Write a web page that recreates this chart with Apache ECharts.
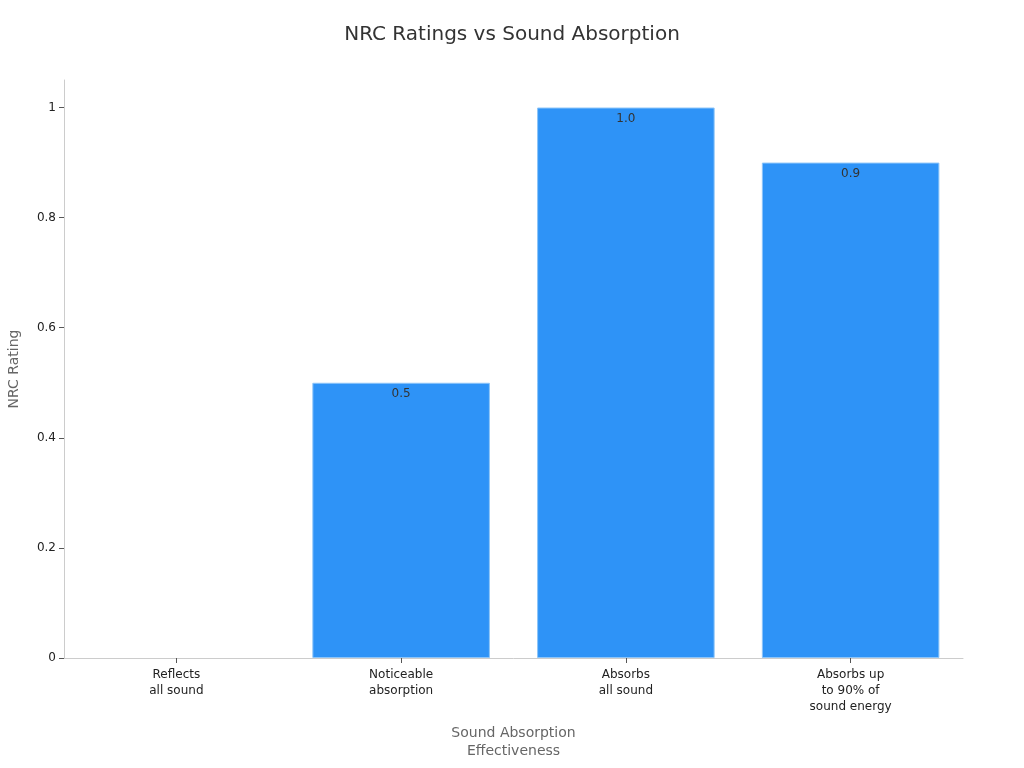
<!DOCTYPE html>
<html lang="en">
<head>
    <meta charset="utf-8">
    <title>NRC Ratings vs Sound Absorption</title>
    <script src="https://cdn.jsdelivr.net/npm/echarts@6/dist/echarts.min.js"></script>
    <style>
        html, body { margin: 0; padding: 0; background: #fff; }
        #chart { width: 1024px; height: 768px; }
    </style>
</head>
<body>
<div id="chart"></div>
<script type="text/javascript">
    var categories = ['Reflects\nall sound', 'Noticeable\nabsorption', 'Absorbs\nall sound', 'Absorbs up\nto 90% of\nsound energy'];
    var nrcValues = [0, 0.5, 1.0, 0.9];
    var yTicks = [0, 0.2, 0.4, 0.6, 0.8, 1];

    var myChart = echarts.init(document.getElementById('chart'));

    // no outline on the empty bar
    var barData = nrcValues.map(function (v) {
        return { value: v, itemStyle: { borderWidth: v > 0 ? 1 : 0 } };
    });

    var option = {
        textStyle: { fontFamily: 'DejaVu Sans' },
        title: {
            text: 'NRC Ratings vs Sound Absorption',
            left: 'center',
            top: 20,
            textStyle: { fontSize: 20, fontWeight: 'normal', color: '#333', fontFamily: 'DejaVu Sans' }
        },
        grid: { left: 64, right: 61, top: 80, bottom: 110, containLabel: false, outerBoundsMode: 'none' },
        xAxis: {
            type: 'category',
            data: categories,
            name: 'Sound Absorption\nEffectiveness',
            nameLocation: 'middle',
            nameGap: 66,
            nameTextStyle: { fontSize: 14, color: '#666', lineHeight: 18 },
            axisLine: { lineStyle: { color: '#ccc' } },
            axisTick: { show: true, alignWithLabel: true, length: 5, lineStyle: { color: '#555' } },
            axisLabel: { fontSize: 12, color: '#222', lineHeight: 16, margin: 9 }
        },
        yAxis: {
            type: 'value',
            min: 0,
            max: 1.05,
            name: 'NRC Rating',
            nameLocation: 'middle',
            nameGap: 43,
            nameTextStyle: { fontSize: 14, color: '#666' },
            splitLine: { show: false },
            axisLine: { show: true, lineStyle: { color: '#ccc' } },
            axisTick: { show: true, length: 5, customValues: yTicks, lineStyle: { color: '#555' } },
            axisLabel: {
                fontSize: 12, color: '#222', customValues: yTicks, margin: 8,
                formatter: function (v) { return String(Math.round(v * 10) / 10); }
            }
        },
        series: [{
            type: 'bar',
            data: barData,
            barCategoryGap: '21%',
            itemStyle: { color: '#2E93F7', borderColor: '#8DC5F9', borderWidth: 1 },
            label: {
                show: true,
                position: 'insideTop',
                distance: 5,
                fontSize: 12,
                color: '#333',
                formatter: function (p) { return p.value > 0 ? p.value.toFixed(1) : ''; }
            }
        }]
    };

    myChart.setOption(option);
</script>
</body>
</html>
